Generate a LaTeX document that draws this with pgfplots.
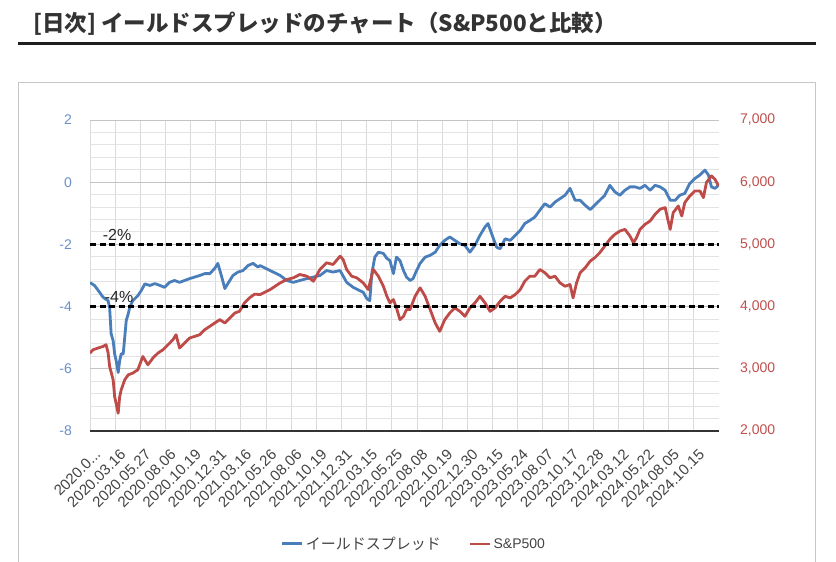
\documentclass[border=0pt]{standalone}
\usepackage{fontspec}
\setmainfont{Liberation Sans}
\newfontfamily\jp{Noto Sans CJK JP}
\usepackage{pgfplots}
\usepackage{pgfplotstable}
\pgfplotsset{compat=1.18}
\definecolor{sblue}{HTML}{4A7EBB}
\definecolor{sred}{HTML}{BE4B48}
\definecolor{tblue}{HTML}{6A90C8}
\definecolor{tred}{HTML}{C0504D}
\definecolor{gridv}{HTML}{DADADA}
\definecolor{gridmin}{HTML}{E3E3E3}
\definecolor{gridmaj}{HTML}{C4C4C4}
\definecolor{xlab}{HTML}{444444}
\definecolor{ttl}{HTML}{333333}

\pgfplotstableread{
x y
0 -3.23
9 -3.32
19 -3.54
26 -3.70
36 -3.81
39 -4.03
42 -4.87
46 -5.10
49 -5.52
52 -5.74
56 -6.12
59 -5.74
62 -5.52
66 -5.52
69 -4.99
72 -4.45
76 -4.23
79 -4.02
85 -3.81
95 -3.65
102 -3.48
109 -3.27
119 -3.32
129 -3.26
139 -3.32
148 -3.38
158 -3.22
168 -3.16
178 -3.22
188 -3.16
198 -3.10
208 -3.05
218 -3.00
228 -2.94
238 -2.94
248 -2.77
254 -2.61
261 -3.00
268 -3.42
274 -3.26
284 -3.00
294 -2.89
304 -2.84
314 -2.68
324 -2.61
334 -2.73
338 -2.68
358 -2.84
378 -3.00
391 -3.16
404 -3.22
417 -3.16
431 -3.10
444 -3.05
457 -3.00
470 -2.84
483 -2.89
497 -2.84
510 -3.22
523 -3.38
543 -3.54
550 -3.74
556 -3.81
560 -2.94
566 -2.41
573 -2.25
583 -2.29
590 -2.45
596 -2.52
603 -2.94
609 -2.41
616 -2.52
623 -2.84
629 -3.05
636 -3.16
642 -3.10
649 -2.84
656 -2.61
666 -2.41
676 -2.35
686 -2.25
695 -2.03
705 -1.87
715 -1.76
725 -1.87
735 -1.98
745 -2.03
755 -2.25
765 -2.03
775 -1.71
785 -1.44
791 -1.33
798 -1.65
808 -2.09
815 -2.14
825 -1.82
835 -1.87
845 -1.71
855 -1.55
864 -1.33
874 -1.23
884 -1.12
894 -0.90
904 -0.69
914 -0.80
924 -0.64
934 -0.53
944 -0.42
954 -0.20
964 -0.58
974 -0.58
984 -0.74
994 -0.88
1003 -0.74
1013 -0.58
1023 -0.42
1033 -0.10
1043 -0.31
1053 -0.42
1063 -0.26
1073 -0.15
1083 -0.15
1093 -0.20
1103 -0.10
1113 -0.26
1123 -0.10
1133 -0.15
1143 -0.26
1153 -0.58
1163 -0.58
1172 -0.42
1182 -0.36
1192 -0.04
1202 0.12
1212 0.23
1222 0.39
1229 0.23
1235 -0.15
1242 -0.20
1249 -0.10
}\spread

\pgfplotstableread{
x y
0 3253
6 3306
16 3334
26 3360
32 3387
36 3258
39 3037
46 2823
49 2553
56 2285
59 2553
62 2661
69 2823
76 2903
85 2931
95 2984
105 3198
115 3065
125 3173
135 3253
145 3306
155 3387
165 3468
171 3548
178 3334
188 3415
198 3495
208 3521
218 3548
228 3629
238 3682
248 3737
258 3790
268 3737
278 3818
288 3898
297 3924
307 4060
317 4140
327 4200
338 4194
358 4274
378 4382
391 4435
404 4463
417 4516
431 4489
444 4408
457 4597
470 4705
483 4677
497 4811
503 4758
510 4597
520 4489
530 4463
543 4382
553 4274
563 4597
573 4489
583 4327
590 4166
596 4060
603 4113
609 3979
616 3790
623 3844
629 3952
636 3952
646 4166
656 4302
666 4166
676 3952
686 3737
695 3602
705 3790
715 3898
725 3979
735 3924
745 3844
755 3979
765 4060
775 4166
785 4060
795 3924
805 3979
815 4085
825 4166
835 4140
845 4194
855 4274
864 4408
874 4489
884 4489
894 4597
904 4544
914 4463
924 4489
934 4382
944 4327
954 4355
960 4140
967 4382
974 4544
984 4624
994 4731
1003 4785
1013 4866
1023 4973
1033 5081
1043 5161
1053 5215
1063 5242
1073 5134
1080 5027
1086 5108
1093 5242
1103 5323
1113 5376
1123 5484
1133 5565
1143 5592
1149 5376
1153 5242
1159 5511
1169 5618
1176 5457
1182 5673
1192 5779
1202 5860
1212 5860
1219 5753
1225 5995
1235 6102
1242 6048
1249 5940
}\spx

\pgfplotsset{base/.style={at={(90bp,-431bp)}, anchor=south west,
  width=629bp, height=311bp, scale only axis, xmin=0, xmax=1250,
  /pgf/number format/assume math mode=true, clip=true}}

\begin{document}
\begin{tikzpicture}
\useasboundingbox (0,0) rectangle (836bp,-562bp);
\fill[white] (0,0) rectangle (836bp,-562bp);
\node[anchor=base west, inner sep=0pt, text=ttl,
  font=\jp\bfseries\fontsize{22.5bp}{26bp}\selectfont] at (33bp,-31bp)
  {[日次] イールドスプレッドのチャート（S\&P500と比較）};
\draw[line width=3bp, color=black!88] (18bp,-43bp) -- (816bp,-43bp);
\draw[color=black!22, line width=1bp] (18.5bp,-575bp) -- (18.5bp,-82.5bp)
  -- (815.5bp,-82.5bp) -- (815.5bp,-575bp);

\begin{axis}[base,
  ymin=-8, ymax=2, ytick={-8,-6,...,2}, minor y tick num=4,
  xtick={0,50,...,1200},
  xticklabels={2020.0.{}.{}.,2020.03.16,2020.05.27,2020.08.06,2020.10.19,2020.12.31,2021.03.16,2021.05.26,2021.08.06,2021.10.19,2021.12.31,2022.03.15,2022.05.25,2022.08.08,2022.10.19,2022.12.30,2023.03.15,2023.05.24,2023.08.07,2023.10.17,2023.12.28,2024.03.12,2024.05.22,2024.08.05,2024.10.15},
  xmajorgrids, ymajorgrids, yminorgrids,
  major x grid style={draw=gridv, line width=1bp},
  major y grid style={draw=gridmaj, line width=1bp},
  minor y grid style={draw=gridmin, line width=1bp},
  axis x line*=bottom, axis y line*=left, separate axis lines,
  x axis line style={draw=black!80, line width=1.3bp, -},
  y axis line style={draw=none},
  major tick length=0pt, minor tick length=0pt,
  yticklabel style={text=tblue, font=\fontsize{14bp}{16bp}\selectfont, inner sep=0pt, xshift=-18bp},
  xticklabel style={xshift=4bp, yshift=-17bp, rotate=45, anchor=north east, inner sep=0pt,
    text=xlab, font=\fontsize{15bp}{17bp}\selectfont},
]
\addplot[sblue, line width=2.8bp, line join=round] table {\spread};
\end{axis}

\begin{axis}[base,
  ymin=2000, ymax=7000, ytick={2000,3000,...,7000},
  axis y line*=right, axis x line=none, xtick=\empty,
  y axis line style={draw=none},
  major tick length=0pt,
  scaled y ticks=false, /pgf/number format/1000 sep={,},
  yticklabel style={text=tred, font=\fontsize{14bp}{16bp}\selectfont, inner sep=0pt, xshift=21bp},
  legend columns=2,
  legend style={at={(0.515,-0.363)}, anchor=center, draw=none, fill=none,
    font=\fontsize{14bp}{16bp}\selectfont, text=xlab,
    /tikz/every even column/.append style={column sep=26bp}},
  legend image code/.code={\draw[#1] (0bp,0bp) -- (20bp,0bp);},
]
\addlegendimage{sblue, line width=3bp}
\addlegendentry{\jp\fontsize{15bp}{17bp}\selectfont イールドスプレッド}
\addplot[sred, line width=2.8bp, line join=round] table {\spx};
\addlegendentry{S\&P500}
\end{axis}

\begin{axis}[base, ymin=-8, ymax=2, hide axis]
\addplot[black, line width=2.6bp, dash pattern=on 6bp off 3.5bp] coordinates {(0,-2) (1250,-2)};
\addplot[black, line width=2.6bp, dash pattern=on 6bp off 3.5bp] coordinates {(0,-4) (1250,-4)};
\node[anchor=base west, inner sep=0pt, text=black!85, font=\fontsize{16bp}{18bp}\selectfont] at (axis cs:25,-1.86) {-2\%};
\node[anchor=base west, inner sep=0pt, text=black!85, font=\fontsize{16bp}{18bp}\selectfont] at (axis cs:29,-3.86) {-4\%};
\end{axis}
\end{tikzpicture}
\end{document}
